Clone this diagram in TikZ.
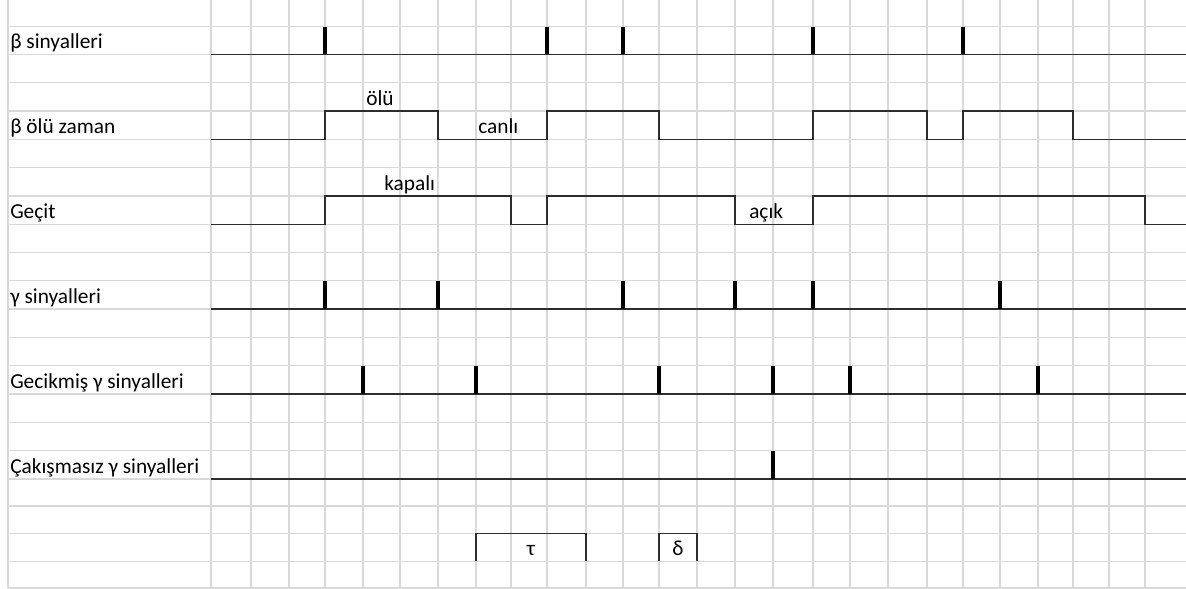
\documentclass[tikz,border=0pt]{standalone}
\usepackage{fontspec}
\setmainfont{Carlito}
\definecolor{gridc}{RGB}{217,217,217}
\definecolor{sigc}{RGB}{45,45,45}
\begin{document}
\begin{tikzpicture}[x=0.75pt,y=-0.75pt,
  gridline/.style={draw=gridc, line width=0.8pt},
  sig/.style={draw=sigc, line width=1.2pt},
  pulse/.style={draw=black, line width=2.7pt},
  lbl/.style={anchor=base west, inner sep=0pt, text=black, font=\fontsize{16}{19}\selectfont},
  clbl/.style={lbl, anchor=base}]
\useasboundingbox (0,0) rectangle (1186,589);
\fill[white] (0,0) rectangle (1186,589);
% grid
\foreach \x in {8,211,251,289,325,363,400,438,476,511,547,586,623,659,697,735,773,813,850,888,927,963,1000,1038,1073,1109,1145}
  \draw[gridline] (\x,0) -- (\x,588);
\foreach \y in {26.7,54.3,82.7,111,139.3,167.7,196,224.3,252.3,280.7,309,337.3,365.7,394,422.3,450.7,479,506,533.3,561.3,588}
  \draw[gridline] (8,\y) -- (1186,\y);
% labels
\node[lbl] (lb1) at (10,48.3) {β sinyalleri};
\node[lbl] (lb2) at (10,133.3) {β ölü zaman};
\node[lbl] (lb3) at (10,218.3) {Geçit};
\node[lbl] (lb4) at (10,303) {γ sinyalleri};
\node[lbl] (lb5) at (10,388) {Gecikmiş γ sinyalleri};
\node[lbl] (lb6) at (10,473) {Çakışmasız γ sinyalleri};
\node[lbl] (olu) at (366,105) {ölü};
\node[lbl] (canli) at (478,133.3) {canlı};
\node[lbl] (kapali) at (384,190) {kapalı};
\node[lbl] (acik) at (749,218.3) {açık};
\node[clbl] (tau) at (531,555.3) {τ};
\node[clbl] (delta) at (678,555.3) {δ};
% beta signals
\draw[sig] (211,54.3) -- (1186,54.3);
\foreach \x in {325,547,623,813,963} \draw[pulse] (\x,26.7) -- (\x,54.3);
% beta dead time
\draw[sig] (211,139.3) -| (325,111) -| (438,139.3) -| (547,111) -| (659,139.3) -| (813,111) -| (927,139.3) -| (963,111) -| (1073,139.3) -- (1186,139.3);
% gate
\draw[sig] (211,224.3) -| (325,196) -| (511,224.3) -| (547,196) -| (735,224.3) -| (813,196) -| (1145,224.3) -- (1186,224.3);
% gamma signals
\draw[sig] (211,309) -- (1186,309);
\foreach \x in {325,438,623,735,813,1000} \draw[pulse] (\x,280.7) -- (\x,309);
% delayed gamma
\draw[sig] (211,394) -- (1186,394);
\foreach \x in {363,476,659,773,850,1038} \draw[pulse] (\x,365.7) -- (\x,394);
% non-coincident gamma
\draw[sig] (211,479) -- (1186,479);
\draw[pulse] (773,450.7) -- (773,479);
% tau and delta brackets
\draw[sig] (476,561.3) |- (586,533.3) -- (586,561.3);
\draw[sig] (659,561.3) |- (697,533.3) -- (697,561.3);
\end{tikzpicture}
\end{document}
